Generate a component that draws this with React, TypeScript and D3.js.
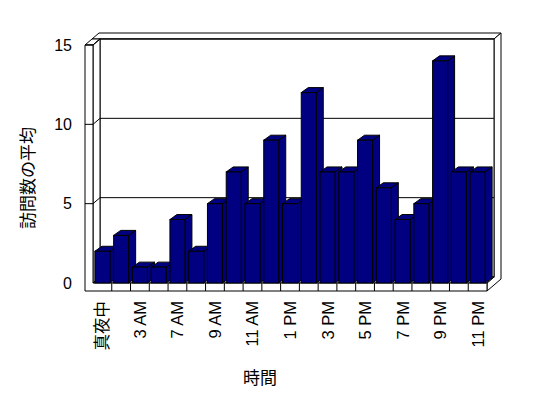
import React from "react";
import * as d3 from "d3";

// categories (only every other one gets a label, like the original)
const hours = [
  "真夜中", "1 AM", "3 AM", "4 AM", "7 AM", "8 AM", "9 AM", "10 AM", "11 AM", "正午", "1 PM",
  "2 PM", "3 PM", "4 PM", "5 PM", "6 PM", "7 PM", "8 PM", "9 PM", "10 PM", "11 PM",
];
const avgVisits = [2, 3, 1, 1, 4, 2, 5, 7, 5, 9, 5, 12, 7, 7, 9, 6, 4, 5, 14, 7, 7];
const yTicks = [0, 5, 10, 15];

const W = 548;
const H = 398;
const FONT = "'Liberation Sans', 'Noto Sans CJK JP', sans-serif";

// layout of the 3d box
const outerLeft = 85;
const left = 93;
const right = 487;
const floorY = 283;
const floorBottom = 291;
const topY = 45;
const dx = 7;   // depth of the plot
const dy = -6;
const bdx = 7;  // depth of the bars
const bdy = -5;

const pts = (p: number[][]) => p.map((d) => d.join(",")).join(" ");

export default function App() {
  const x = d3.scaleBand<string>()
    .domain(hours)
    .range([left, right])
    .paddingInner(0.2)
    .paddingOuter(0.1);

  const y = d3.scaleLinear().domain([0, 15]).range([floorY, topY]);
  const step = x.step();
  const bw = x.bandwidth();

  return (
    <svg width={W} height={H} style={{ position: "absolute", left: 0, top: 0, background: "#fff" }}
      fontFamily={FONT}>
      <g fill="#fff" stroke="#000" strokeWidth={1}>
        {/* back wall top + right side */}
        <polygon points={pts([[outerLeft + dx, topY + dy], [right + dx, topY + dy], [right + 2 * dx, topY + 2 * dy], [outerLeft + 2 * dx, topY + 2 * dy]])} />
        <polygon points={pts([[right + dx, topY + dy], [right + 2 * dx, topY + 2 * dy], [right + 2 * dx, floorBottom + 2 * dy], [right, floorBottom], [right, floorY], [right + dx, floorY + dy]])} />
        {/* back wall */}
        <rect x={left + dx} y={topY + dy} width={right - left} height={floorY - topY} />
        {/* left wall top and inner face */}
        <polygon points={pts([[outerLeft, topY], [left, topY], [left + dx, topY + dy], [outerLeft + dx, topY + dy]])} />
        <polygon points={pts([[left, topY], [left + dx, topY + dy], [left + dx, floorY + dy], [left, floorY]])} />
        {/* floor */}
        <polygon points={pts([[left, floorY], [right, floorY], [right + dx, floorY + dy], [left + dx, floorY + dy]])} />
        {/* left wall front + floor front */}
        <polygon points={pts([[outerLeft, topY], [left, topY], [left, floorY], [right, floorY], [right, floorBottom], [outerLeft, floorBottom]])} />
      </g>

      {/* gridlines */}
      <g stroke="#000" fill="none">
        {yTicks.filter((t) => t > 0).map((t) => (
          <polyline key={t}
            points={pts([[outerLeft, y(t)], [left, y(t)], [left + dx, y(t) + dy], [right + dx, y(t) + dy]])} />
        ))}
        {hours.slice(1).map((h, i) => (
          <line key={h} x1={left + (i + 1) * step} x2={left + (i + 1) * step} y1={floorY} y2={floorBottom} />
        ))}
      </g>

      {/* bars */}
      <g fill="#000080" stroke="#000" strokeWidth={1} strokeLinejoin="miter">
        {hours.map((h, i) => {
          const x0 = x(h) as number;
          const x1 = x0 + bw;
          const yt = y(avgVisits[i]);
          return (
            <g key={h}>
              <polygon points={pts([[x1, yt], [x1 + bdx, yt + bdy], [x1 + bdx, floorY + bdy], [x1, floorY]])} />
              <polygon points={pts([[x0, yt], [x0 + bdx, yt + bdy], [x1 + bdx, yt + bdy], [x1, yt]])} />
              <rect x={x0} y={yt} width={bw} height={floorY - yt} />
            </g>
          );
        })}
      </g>

      {/* y axis labels */}
      <g fontSize={16} fill="#000" textAnchor="end">
        {yTicks.map((t) => (
          <text key={t} x={72} y={y(t)} dominantBaseline="central">{t}</text>
        ))}
      </g>
      <text transform="translate(28,178) rotate(-90)" textAnchor="middle" dominantBaseline="central"
        fontSize={17}>訪問数の平均</text>

      {/* x axis labels */}
      <g fontSize={16.5} fill="#000" textAnchor="end">
        {hours.map((h, i) => i % 2 === 0 ? (
          <text key={h} transform={`translate(${(x(h) as number) + bw / 2},${floorBottom + 10}) rotate(-90)`}
            dominantBaseline="central">{h}</text>
        ) : null)}
      </g>
      <text x={260} y={378} textAnchor="middle" dominantBaseline="central" fontSize={17}>時間</text>
    </svg>
  );
}
